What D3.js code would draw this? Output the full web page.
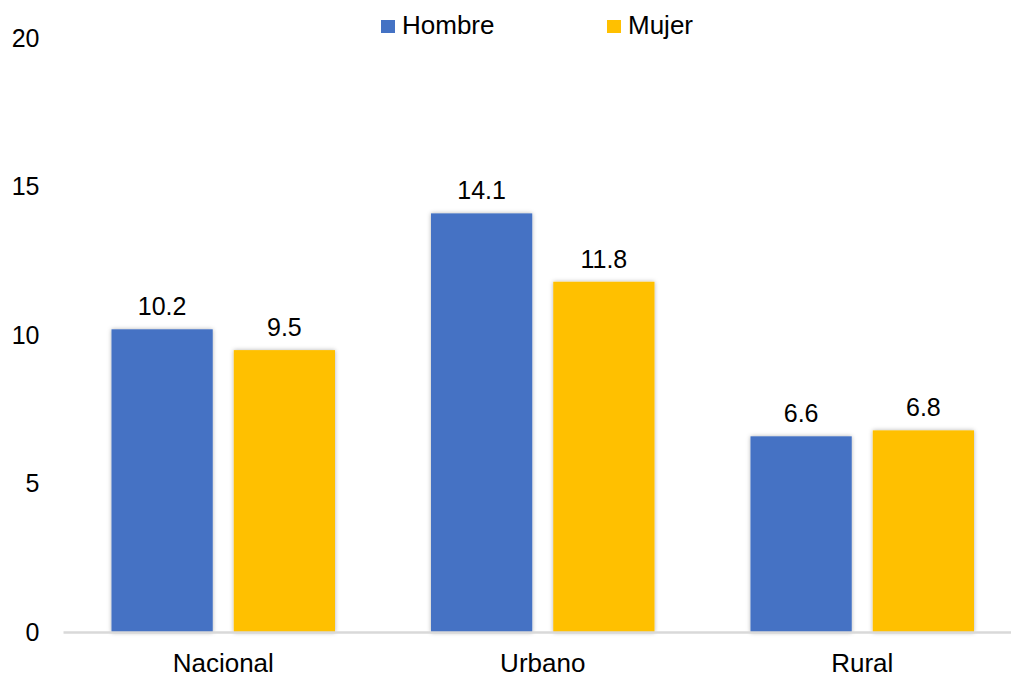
<!DOCTYPE html>
<html>
<head>
<meta charset="utf-8">
<script src="https://cdn.jsdelivr.net/npm/d3@7"></script>
<style>
  html, body { margin: 0; padding: 0; background: #fff; }
  svg { display: block; font-family: "Liberation Sans", Arial, sans-serif; }
</style>
</head>
<body>
<div id="chart"></div>
<script>
(function () {
    const width = 1011, height = 677;

    // ── DATA ───────────────────────────────────────────────────────────────
    const categories = ["Nacional", "Urbano", "Rural"];
    const series     = ["Hombre", "Mujer"];
    const hombre     = [10.2, 14.1, 6.6];
    const mujer      = [9.5, 11.8, 6.8];
    const yTicks     = [0, 5, 10, 15, 20];
    const colors     = ["#4472C4", "#FFC000"];

    const values = { Hombre: hombre, Mujer: mujer };

    // ── LAYOUT ─────────────────────────────────────────────────────────────
    // plot area runs a bit past the right edge (the original is cropped)
    const plotLeft = 63.5, plotRight = 1022, plotTop = 38, plotBottom = 632.5;

    const svg = d3.select("#chart")
        .append("svg")
        .attr("width", width)
        .attr("height", height);

    const x0 = d3.scaleBand()
        .domain(categories)
        .range([plotLeft, plotRight])
        .padding(0);

    const outer = 48;
    const x1 = d3.scaleBand()
        .domain(series)
        .range([outer, x0.bandwidth() - outer])
        .paddingInner(0.172)
        .paddingOuter(0);

    const y = d3.scaleLinear()
        .domain([0, 20])
        .range([plotBottom, plotTop]);

    // soft shadow like the spreadsheet bars
    const defs = svg.append("defs");
    const shadow = defs.append("filter").attr("id", "bar-shadow")
        .attr("x", "-10%").attr("y", "-10%").attr("width", "120%").attr("height", "120%");
    shadow.append("feDropShadow")
        .attr("dx", 0).attr("dy", 0)
        .attr("stdDeviation", 2)
        .attr("flood-color", "#000")
        .attr("flood-opacity", 0.3);

    // ── Y AXIS (labels only) ───────────────────────────────────────────────
    const yAxis = svg.append("g")
        .attr("transform", "translate(39.5,0)")
        .call(d3.axisLeft(y).tickValues(yTicks).tickSize(0).tickPadding(0));
    yAxis.select(".domain").remove();
    yAxis.selectAll("text")
        .attr("font-family", "Liberation Sans, Arial, sans-serif")
        .attr("font-size", 25)
        .attr("fill", "#000");

    // ── BARS ───────────────────────────────────────────────────────────────
    const groups = svg.append("g").selectAll("g")
        .data(categories)
        .join("g")
        .attr("transform", d => `translate(${x0(d)},0)`);

    groups.selectAll("rect")
        .data((c, i) => series.map((s, j) => ({ s, j, v: values[s][i] })))
        .join("rect")
        .attr("x", d => x1(d.s))
        .attr("y", d => y(d.v))
        .attr("width", x1.bandwidth())
        .attr("height", d => y(0) - y(d.v))
        .attr("fill", d => colors[d.j])
        .attr("filter", "url(#bar-shadow)");

    groups.selectAll("text.value")
        .data((c, i) => series.map((s, j) => ({ s, j, v: values[s][i] })))
        .join("text")
        .attr("class", "value")
        .attr("x", d => x1(d.s) + x1.bandwidth() / 2)
        .attr("y", d => y(d.v) - 14)
        .attr("text-anchor", "middle")
        .attr("font-size", 25)
        .attr("fill", "#000")
        .text(d => d.v.toFixed(1));

    // ── X AXIS ─────────────────────────────────────────────────────────────
    svg.append("line")
        .attr("x1", plotLeft).attr("x2", plotRight)
        .attr("y1", plotBottom).attr("y2", plotBottom)
        .attr("stroke", "#D9D9D9")
        .attr("stroke-width", 2.5);

    const xAxis = svg.append("g")
        .attr("transform", `translate(0,${plotBottom})`)
        .call(d3.axisBottom(x0).tickSize(0).tickPadding(0));
    xAxis.select(".domain").remove();
    xAxis.selectAll("text")
        .attr("dy", null)
        .attr("y", 39)
        .attr("font-family", "Liberation Sans, Arial, sans-serif")
        .attr("font-size", 26)
        .attr("fill", "#000");

    // ── LEGEND ─────────────────────────────────────────────────────────────
    const legendX = [381, 607];
    const legend = svg.append("g").selectAll("g")
        .data(series)
        .join("g")
        .attr("transform", (d, i) => `translate(${legendX[i]},20)`);

    legend.append("rect")
        .attr("width", 14).attr("height", 13)
        .attr("fill", (d, i) => colors[i]);

    legend.append("text")
        .attr("x", 21)
        .attr("y", 14)
        .attr("font-size", 26)
        .attr("fill", "#000")
        .text(d => d);
})();
</script>
</body>
</html>
